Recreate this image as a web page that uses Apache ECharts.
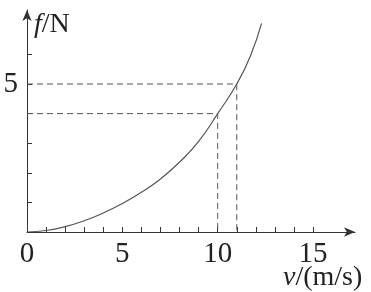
<!DOCTYPE html>
<html><head><meta charset="utf-8">
<script src="https://cdn.jsdelivr.net/npm/echarts@6/dist/echarts.min.js"></script>
<style>html,body{margin:0;padding:0;background:#fff}#c{width:371px;height:292px}</style>
</head><body><div id="c"></div>
<script>
// speed v (m/s)
const speeds = [0, 1, 2, 3, 4, 5, 6, 7, 8, 9, 10, 11, 11.7, 12.3];
// force f (N)
const forces = [0, 0.05, 0.18, 0.38, 0.64, 0.96, 1.34, 1.79, 2.36, 3.06, 4.0, 5.0, 5.92, 7.05];
// guide points
const guideA = [[0, 5], [11, 5], [11, 0]];
const guideB = [[0, 4], [10, 4], [10, 0]];
const xTickValues = [0,1,2,3,4,5,6,7,8,9,10,11,12,13,14,15];
const xLabelValues = [0, 5, 10, 15];
const yTickValues = [0,1,2,3,4,5,6];
const yLabelValues = [5];
const xName = '{i|v}/(m/s)';
const yName = '{i|f}/N';

const curve = speeds.map((v, i) => [v, forces[i]]);
const font = "'Liberation Serif', 'Times New Roman', serif";
const axisCol = '#333';
const txt = '#222';
const chart = echarts.init(document.getElementById('c'));
chart.setOption({
  animation: false,
  backgroundColor: '#fff',
  grid: { left: 27, right: 16, top: 10, bottom: 60, containLabel: false, outerBoundsMode: 'none' },
  graphic: [{
    type: 'text', left: 283, top: 264,
    style: { text: xName, fontFamily: font, fontSize: 28, fill: txt,
      rich: { i: { fontFamily: font, fontStyle: 'italic', fontSize: 28, fill: txt, color: txt } } }
  }],
  xAxis: {
    type: 'value', min: 0, max: 17.2,
    axisLine: { lineStyle: { color: axisCol, width: 1 }, symbol: ['none', 'arrow'], symbolSize: [7, 11] },
    axisTick: { show: true, inside: true, length: 5, lineStyle: { color: axisCol }, customValues: xTickValues },
    axisLabel: { customValues: xLabelValues, fontFamily: font, fontSize: 29, color: txt, margin: 8 },
    splitLine: { show: false }
  },
  yAxis: {
    type: 'value', min: 0, max: 7.5,
    axisLine: { show: true, lineStyle: { color: axisCol, width: 1 }, symbol: ['none', 'arrow'], symbolSize: [7, 11] },
    axisTick: { show: true, inside: true, length: 5, lineStyle: { color: axisCol }, customValues: yTickValues },
    axisLabel: { customValues: yLabelValues, fontFamily: font, fontSize: 29, color: txt, margin: 9 },
    splitLine: { show: false },
    name: yName, nameLocation: 'end', nameGap: -1,
    nameTextStyle: { fontFamily: font, fontSize: 28, color: txt, align: 'left', verticalAlign: 'top', padding: [0, 0, 0, 7],
      rich: { i: { fontFamily: font, fontStyle: 'italic', fontSize: 28, color: txt } } }
  },
  series: [
    { type: 'line', data: curve, smooth: 0.5, showSymbol: false, lineStyle: { color: '#555', width: 1.2 } },
    { type: 'line', data: guideA, showSymbol: false, lineStyle: { color: '#555', width: 1, type: [6, 4] } },
    { type: 'line', data: guideB, showSymbol: false, lineStyle: { color: '#555', width: 1, type: [6, 4] } }
  ]
});
</script></body></html>
